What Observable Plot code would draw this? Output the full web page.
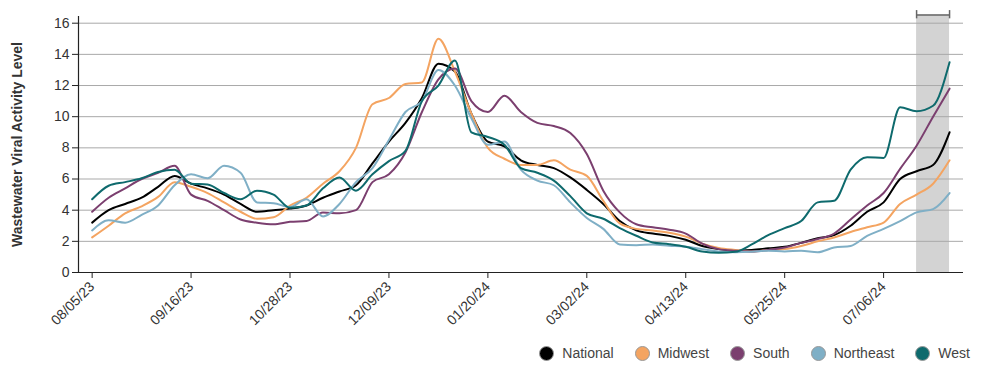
<!DOCTYPE html>
<html><head><meta charset="utf-8">
<script src="https://cdn.jsdelivr.net/npm/d3@7"></script>
<script src="https://cdn.jsdelivr.net/npm/@observablehq/plot@0.6"></script>
<style>
body{margin:0;background:#fff;font-family:"Liberation Sans",Arial,sans-serif;}
#wrap{position:relative;width:985px;height:376px;overflow:hidden;}
#legend{position:absolute;top:345px;right:15px;display:flex;align-items:center;font-size:14px;color:#444;}
.item{display:flex;align-items:center;margin-left:21px;}
.sw{width:15px;height:15px;border-radius:50%;border:1px solid #999;margin-right:8px;box-sizing:border-box}
svg [aria-label="y-axis label"] text, svg [aria-label="y-axis label"]{font-weight:bold;font-size:14px;fill:#333;}
</style></head><body><div id="wrap"><div id="chart"></div><div id="legend"></div></div>
<script>
const startDate = "08/05/23";
const seriesNames = ["National", "Midwest", "South", "Northeast", "West"];
const seriesColors = ["#000000", "#F4A461", "#7B3F6F", "#7FAFC6", "#0E6A6D"];
const tickLabels = ["08/05/23","09/16/23","10/28/23","12/09/23","01/20/24","03/02/24","04/13/24","05/25/24","07/06/24"];
const yTicks = [0, 2, 4, 6, 8, 10, 12, 14, 16];
const shadedRange = ["07/20/24", "08/03/24"];

const national = [3.2,4.0,4.4,4.8,5.5,6.2,5.7,5.4,5.0,4.4,3.9,4.0,4.1,4.3,4.8,5.2,5.6,7.0,8.4,9.6,11.2,13.4,12.9,10.2,8.4,8.1,7.2,6.9,6.7,6.1,5.3,4.4,3.3,2.7,2.5,2.35,2.1,1.7,1.5,1.4,1.45,1.55,1.65,1.9,2.2,2.4,3.0,3.9,4.5,6.0,6.5,6.9,9.0];
const midwest = [2.25,3.0,3.8,4.25,4.85,5.8,5.5,5.1,4.5,3.9,3.45,3.55,4.3,4.8,5.7,6.5,8.0,10.8,11.2,12.1,12.2,15.0,12.9,10.2,8.0,7.3,6.9,6.9,7.2,6.6,6.2,4.6,3.15,2.8,2.7,2.55,2.3,1.85,1.58,1.45,1.35,1.45,1.5,1.7,2.0,2.25,2.6,2.9,3.2,4.4,5.0,5.7,7.2];
const south = [3.9,4.8,5.4,6.0,6.4,6.85,5.0,4.6,4.0,3.4,3.2,3.1,3.25,3.3,3.85,3.8,4.0,5.8,6.3,7.7,10.3,12.4,13.1,11.0,10.3,11.35,10.3,9.6,9.4,8.95,7.6,5.25,3.86,3.1,2.9,2.75,2.5,1.85,1.5,1.4,1.35,1.45,1.6,1.9,2.15,2.5,3.4,4.3,5.1,6.65,8.14,10.0,11.8];
const northeast = [2.7,3.35,3.2,3.7,4.3,5.6,6.3,6.05,6.85,6.4,4.5,4.45,4.2,4.7,3.6,4.4,5.8,6.7,8.5,10.3,11.0,13.0,12.0,9.9,8.2,8.4,6.6,5.9,5.6,4.5,3.5,2.8,1.8,1.75,1.8,1.72,1.65,1.5,1.35,1.3,1.33,1.4,1.35,1.4,1.3,1.6,1.7,2.35,2.8,3.3,3.86,4.07,5.1];
const west = [4.7,5.57,5.8,6.05,6.45,6.6,5.7,5.65,5.1,4.7,5.25,5.0,4.15,4.3,5.4,6.1,5.25,6.3,7.15,7.8,11.0,12.0,13.6,9.0,8.7,8.2,6.7,6.4,5.9,4.9,3.8,3.45,2.85,2.36,1.93,1.82,1.65,1.35,1.27,1.33,1.8,2.4,2.85,3.3,4.5,4.6,6.6,7.4,7.35,10.6,10.35,10.7,13.5];

const parse = d3.utcParse("%m/%d/%y");
const start = parse(startDate);
const allValues = [national, midwest, south, northeast, west];
const rows = [];
seriesNames.forEach((s, k) => allValues[k].forEach((v, i) => rows.push({series: s, date: d3.utcDay.offset(start, 7 * i), value: v})));
const end = d3.max(rows, d => d.date);
const xDomain = [d3.utcHour.offset(start, -139), d3.utcHour.offset(end, 142)];
const yMax = 16.43;
const band = {x1: parse(shadedRange[0]), x2: parse(shadedRange[1])};

const chart = Plot.plot({
  width: 985, height: 336,
  marginLeft: 78, marginRight: 22, marginTop: 16, marginBottom: 64,
  style: {fontFamily: "'Liberation Sans', Arial, sans-serif", fontSize: "14px", color: "#333", overflow: "visible", background: "#fff"},
  x: {type: "utc", domain: xDomain},
  y: {domain: [0, yMax]},
  color: {domain: seriesNames, range: seriesColors},
  marks: [
    Plot.rect([band], {x1: "x1", x2: "x2", y1: 0, y2: yMax + 0.1, fill: "#d3d3d3"}),
    Plot.gridY(yTicks, {stroke: "#a9a9a9", strokeOpacity: 1, strokeWidth: 1}),
    Plot.line(rows, {x: "date", y: "value", z: "series", stroke: "series", strokeWidth: 2, curve: "monotone-x"}),
    Plot.ruleX([xDomain[0]], {y1: 0, y2: yMax, stroke: "#222", strokeWidth: 1.2}),
    Plot.ruleY([0], {stroke: "#222", strokeWidth: 1.2}),
    Plot.axisY(yTicks, {tickSize: 6, tickPadding: 3, stroke: "#222", fill: "#333", label: "Wastewater Viral Activity Level", labelAnchor: "center", labelArrow: "none", labelOffset: 66}),
    Plot.axisX(tickLabels.map(parse), {tickFormat: d3.utcFormat("%m/%d/%y"), tickRotate: -45, tickSize: 6, stroke: "#222", fill: "#333", label: null}),
    Plot.ruleY([yMax + 0.1], {x1: band.x1, x2: band.x2, stroke: "#666", strokeWidth: 1.5}),
    Plot.ruleX([band.x1, band.x2], {y1: yMax - 0.15, y2: yMax + 0.38, stroke: "#666", strokeWidth: 1.5})
  ]
});
document.getElementById("chart").appendChild(chart);

const legend = d3.select("#legend");
seriesNames.forEach((s, k) => {
  const it = legend.append("div").attr("class", "item");
  it.append("div").attr("class", "sw").style("background", seriesColors[k]);
  it.append("span").text(s);
});
</script></body></html>
